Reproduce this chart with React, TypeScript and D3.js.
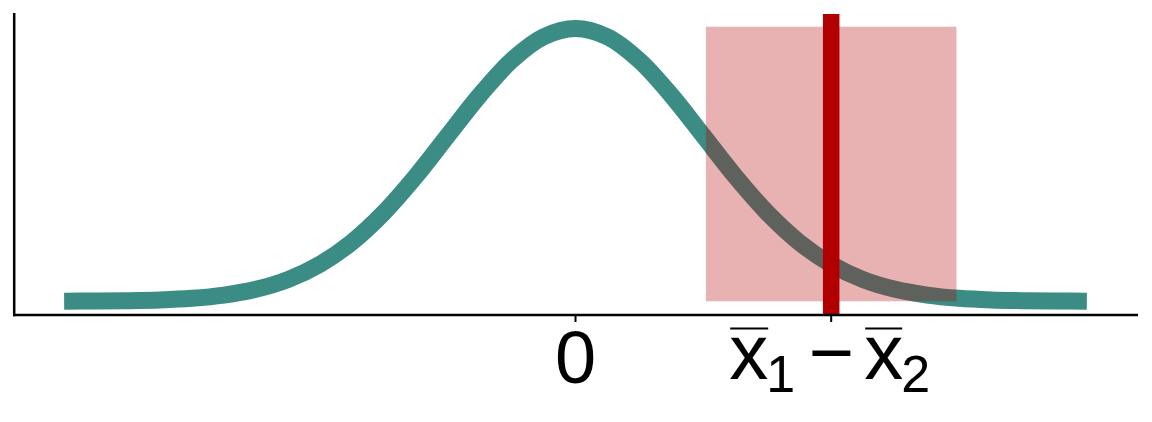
import React from "react";
import * as d3 from "d3";

// Sampling distribution curve
const curveX: number[] = [
  -4, -3.75, -3.5, -3.25, -3, -2.75, -2.5, -2.25, -2, -1.75, -1.5, -1.25, -1, -0.75, -0.5, -0.25,
  0, 0.25, 0.5, 0.75, 1, 1.25, 1.5, 1.75, 2, 2.25, 2.5, 2.75, 3, 3.25, 3.5, 3.75, 4,
];
const curveY: number[] = [
  0.0001, 0.0004, 0.0009, 0.002, 0.0044, 0.0091, 0.0175, 0.0317, 0.054, 0.0863, 0.1295, 0.1826,
  0.242, 0.3011, 0.3521, 0.3867, 0.3989, 0.3867, 0.3521, 0.3011, 0.242, 0.1826, 0.1295, 0.0863,
  0.054, 0.0317, 0.0175, 0.0091, 0.0044, 0.002, 0.0009, 0.0004, 0.0001,
];
// Confidence interval rectangle and observed difference
const ciLower = 1.02;
const ciUpper = 2.98;
const ciTop = 0.4015;
const observedDiff = 2;
const tickValues: number[] = [0, observedDiff];

const W = 1152;
const H = 422;
const panel = { left: 13, right: 1138, top: 13, bottom: 315 };
const FONT = "'Liberation Sans', Arial, Helvetica, sans-serif";

export default function App() {
  const xMin = -4, xMax = 4;
  const xPad = (xMax - xMin) * 0.05;
  const x = d3.scaleLinear().domain([xMin - xPad, xMax + xPad]).range([panel.left, panel.right]);
  const yPad = ciTop * 0.05;
  const y = d3.scaleLinear().domain([-yPad, ciTop + yPad]).range([panel.bottom, panel.top]);

  const pts: [number, number][] = curveX.map((v, i) => [v, curveY[i]]);
  const line = d3
    .line<[number, number]>()
    .x((d) => x(d[0]))
    .y((d) => y(d[1]))
    .curve(d3.curveCatmullRom.alpha(0.5));

  const xc = x(observedDiff);
  const main = 78;
  const sub = 52;

  return (
    <svg
      width={W}
      height={H}
      style={{ position: "absolute", left: 0, top: 0, background: "#fff" }}
    >
      <path d={line(pts) || ""} fill="none" stroke="#3a8c85" strokeWidth={17} strokeLinecap="butt" />
      <rect
        x={x(ciLower)}
        y={y(ciTop)}
        width={x(ciUpper) - x(ciLower)}
        height={y(0) - y(ciTop)}
        fill="#b20000"
        fillOpacity={0.3}
      />
      <line x1={xc} x2={xc} y1={panel.top + 1} y2={panel.bottom} stroke="#b20000" strokeWidth={16.5} />
      {/* axes */}
      <line x1={panel.left} x2={panel.right} y1={panel.bottom} y2={panel.bottom} stroke="#000" strokeWidth={2.5} />
      <line x1={panel.left + 1.2} x2={panel.left + 1.2} y1={panel.top} y2={panel.bottom + 1.2} stroke="#000" strokeWidth={2.5} />
      {tickValues.map((t) => (
        <line key={t} x1={x(t)} x2={x(t)} y1={panel.bottom} y2={panel.bottom + 7} stroke="#000" strokeWidth={2} />
      ))}
      {/* tick labels */}
      <text x={x(0)} y={383} textAnchor="middle" fontFamily={FONT} fontSize={74} fill="#000">
        0
      </text>
      <g fontFamily={FONT} fill="#000">
        <text x={xc - 102} y={379} fontSize={main}>x</text>
        <line x1={xc - 101} x2={xc - 63} y1={328.5} y2={328.5} stroke="#000" strokeWidth={2} />
        <text x={xc - 65} y={392} fontSize={sub}>1</text>
        <text x={xc} y={379} fontSize={main} textAnchor="middle">−</text>
        <text x={xc + 33} y={379} fontSize={main}>x</text>
        <line x1={xc + 34} x2={xc + 71} y1={328.5} y2={328.5} stroke="#000" strokeWidth={2} />
        <text x={xc + 70} y={392} fontSize={sub}>2</text>
      </g>
    </svg>
  );
}
